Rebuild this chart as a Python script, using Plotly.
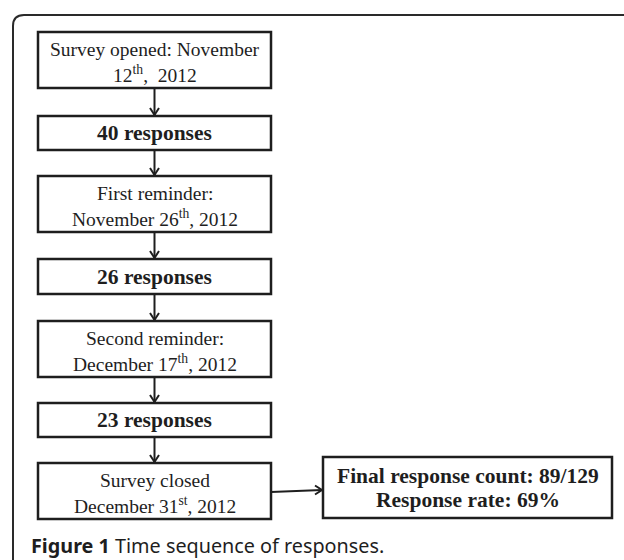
import plotly.graph_objects as go

# ---- content ----
step_lines = [
    ["Survey opened: November", "12<sup>th</sup>,  2012"],
    ["<b>40 responses</b>"],
    ["First reminder:", "November 26<sup>th</sup>, 2012"],
    ["<b>26 responses</b>"],
    ["Second reminder:", "December 17<sup>th</sup>, 2012"],
    ["<b>23 responses</b>"],
    ["Survey closed", "December 31<sup>st</sup>, 2012"],
]
final_lines = ["<b>Final response count: 89/129</b>", "<b>Response rate: 69%</b>"]
caption_bold = "Figure 1"
caption_rest = " Time sequence of responses."

# ---- layout geometry (pixels, y downward) ----
W, H = 624, 560
box_x0, box_x1 = 38, 271
box_tops = [32, 116, 176, 259, 321, 403, 463]
box_bots = [88, 150, 232, 294, 377, 437, 519]
final_box = (323, 457, 612, 518)
line_gap = 24
ink = "#1e1e1e"
serif = "Liberation Serif, Times New Roman, serif"

shapes = []
annotations = []

# outer rounded frame (open to the right and bottom)
shapes.append(dict(type="path", xref="x", yref="y",
                   path="M 640,15 L 24,15 Q 13,15 13,26 L 13,580",
                   line=dict(color="#2a2a2a", width=2)))

cx = (box_x0 + box_x1) / 2
for i, lines in enumerate(step_lines):
    t, b = box_tops[i], box_bots[i]
    shapes.append(dict(type="rect", xref="x", yref="y", x0=box_x0, x1=box_x1, y0=t, y1=b,
                       line=dict(color=ink, width=2.5), fillcolor="white"))
    mid = (t + b) / 2
    n = len(lines)
    for k, txt in enumerate(lines):
        yy = mid + (k - (n - 1) / 2) * line_gap + (1.5 if n > 1 else 0)
        bold = txt.startswith("<b>")
        annotations.append(dict(x=cx, y=yy, xref="x", yref="y", text=txt, showarrow=False,
                                xanchor="center", yanchor="middle",
                                font=dict(family=serif, size=21.5 if bold else 19.5, color=ink)))
    # arrow to next box
    if i < len(step_lines) - 1:
        y0, y1 = b, box_tops[i + 1]
        shapes.append(dict(type="line", xref="x", yref="y", x0=cx, x1=cx, y0=y0, y1=y1 - 1,
                           line=dict(color=ink, width=2)))
        shapes.append(dict(type="path", xref="x", yref="y",
                           path=f"M {cx-4.5},{y1-8} L {cx},{y1-1} L {cx+4.5},{y1-8}",
                           line=dict(color=ink, width=2)))

# final box
fx0, fy0, fx1, fy1 = final_box
shapes.append(dict(type="rect", xref="x", yref="y", x0=fx0, x1=fx1, y0=fy0, y1=fy1,
                   line=dict(color=ink, width=2.5), fillcolor="white"))
fmid = (fy0 + fy1) / 2
for k, txt in enumerate(final_lines):
    yy = fmid + (k - 0.5) * 24
    annotations.append(dict(x=(fx0 + fx1) / 2, y=yy, xref="x", yref="y", text=txt, showarrow=False,
                            xanchor="center", yanchor="middle",
                            font=dict(family=serif, size=21.5, color=ink)))

# horizontal arrow from last step to final box
ay = 491
shapes.append(dict(type="line", xref="x", yref="y", x0=box_x1, x1=fx0 - 1, y0=ay + 1, y1=ay - 1,
                   line=dict(color=ink, width=2)))
shapes.append(dict(type="path", xref="x", yref="y",
                   path=f"M {fx0-8},{ay-5.5} L {fx0-1},{ay-1} L {fx0-8},{ay+3.5}",
                   line=dict(color=ink, width=2)))

# caption
annotations.append(dict(x=29, y=545, xref="x", yref="y",
                        text=f"<b>{caption_bold}</b>{caption_rest}", showarrow=False,
                        xanchor="left", yanchor="middle",
                        font=dict(family="Noto Sans, sans-serif", size=19.8, color=ink)))

fig = go.Figure()
fig.add_trace(go.Scatter(x=[0, W], y=[0, H], mode="markers", marker=dict(opacity=0),
                         hoverinfo="skip", showlegend=False))
fig.update_layout(
    width=W, height=H, margin=dict(l=0, r=0, t=0, b=0),
    paper_bgcolor="white", plot_bgcolor="white",
    xaxis=dict(range=[0, W], visible=False, fixedrange=True),
    yaxis=dict(range=[H, 0], visible=False, fixedrange=True),
    shapes=shapes, annotations=annotations, showlegend=False,
)
fig.write_html("out.html", config={"displayModeBar": False})

# remove default page margin so the figure fills the window exactly
with open("out.html", "r", encoding="utf-8") as f:
    html = f.read()
html = html.replace("<head>", "<head><style>html,body{margin:0;padding:0;overflow:hidden;}</style>", 1)
with open("out.html", "w", encoding="utf-8") as f:
    f.write(html)
